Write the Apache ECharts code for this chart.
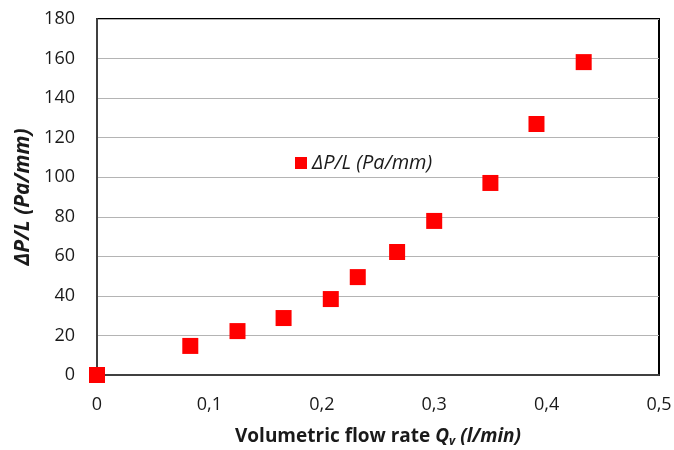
<!DOCTYPE html>
<html>
<head>
<meta charset="utf-8">
<script src="https://cdn.jsdelivr.net/npm/echarts@6/dist/echarts.min.js"></script>
<style>
  html, body { margin: 0; padding: 0; background: #fff; }
  #chart { width: 674px; height: 450px; }
</style>
</head>
<body>
<div id="chart"></div>
<script>
// flow rate (l/min) and pressure drop per length (Pa/mm)
var flowRate = [0, 0.083, 0.125, 0.166, 0.208, 0.232, 0.267, 0.300, 0.350, 0.391, 0.433];
var pressureDrop = [0, 14.7, 22.2, 28.8, 38.4, 49.5, 62.2, 77.9, 97.1, 126.9, 158.2];
var seriesName = 'ΔP/L (Pa/mm)';

var points = [];
for (var i = 0; i < flowRate.length; i++) {
  points.push([flowRate[i], pressureDrop[i]]);
}

var chart = echarts.init(document.getElementById('chart'));
var font = 'Open Sans, Liberation Sans, sans-serif';

var option = {
  animation: false,
  textStyle: { fontFamily: font },
  grid: {
    left: 97, right: 15, top: 19, bottom: 75,
    outerBoundsMode: 'none',
    containLabel: false,
    show: true,
    borderColor: '#000',
    borderWidth: 2
  },
  legend: {
    data: [seriesName],
    left: 290, top: 148,
    itemWidth: 12, itemHeight: 12,
    textStyle: { fontFamily: font, fontSize: 20, fontStyle: 'italic', color: '#1a1a1a' }
  },
  xAxis: {
    type: 'value',
    min: 0, max: 0.5, interval: 0.1,
    name: '{b|Volumetric flow rate }{bi|Q}{sub|v}{bi| (l/min)}',
    nameLocation: 'middle',
    nameGap: 51,
    nameTextStyle: {
      rich: {
        b: { fontFamily: font, fontSize: 19, fontWeight: 'bold', color: '#1a1a1a' },
        bi: { fontFamily: font, fontSize: 19, fontWeight: 'bold', fontStyle: 'italic', color: '#1a1a1a' },
        sub: { fontFamily: font, fontSize: 12, fontWeight: 'bold', fontStyle: 'italic', color: '#1a1a1a', padding: [10, 0, 0, 0] }
      }
    },
    axisLine: { show: true, onZero: false, lineStyle: { color: '#404040', width: 2 } },
    axisTick: { show: false },
    splitLine: { show: false },
    axisLabel: {
      fontSize: 18, color: '#1a1a1a', margin: 21,
      formatter: function (v) { return String(Math.round(v * 10) / 10).replace('.', ','); }
    }
  },
  yAxis: {
    type: 'value',
    min: 0, max: 180, interval: 20,
    name: seriesName,
    nameLocation: 'middle',
    nameGap: 62,
    nameTextStyle: { fontSize: 21, fontWeight: 'bold', fontStyle: 'italic', color: '#1a1a1a' },
    axisLine: { show: true, onZero: false, lineStyle: { color: '#404040', width: 2 } },
    axisTick: { show: false },
    splitLine: { show: true, lineStyle: { color: '#b4b4b4', width: 1 } },
    axisLabel: { fontSize: 18, color: '#1a1a1a', margin: 22 }
  },
  series: [{
    name: seriesName,
    type: 'scatter',
    symbol: 'rect',
    symbolSize: 16,
    itemStyle: { color: '#ff0000', opacity: 1 },
    data: points,
    z: 5
  }]
};

chart.setOption(option);
</script>
</body>
</html>
